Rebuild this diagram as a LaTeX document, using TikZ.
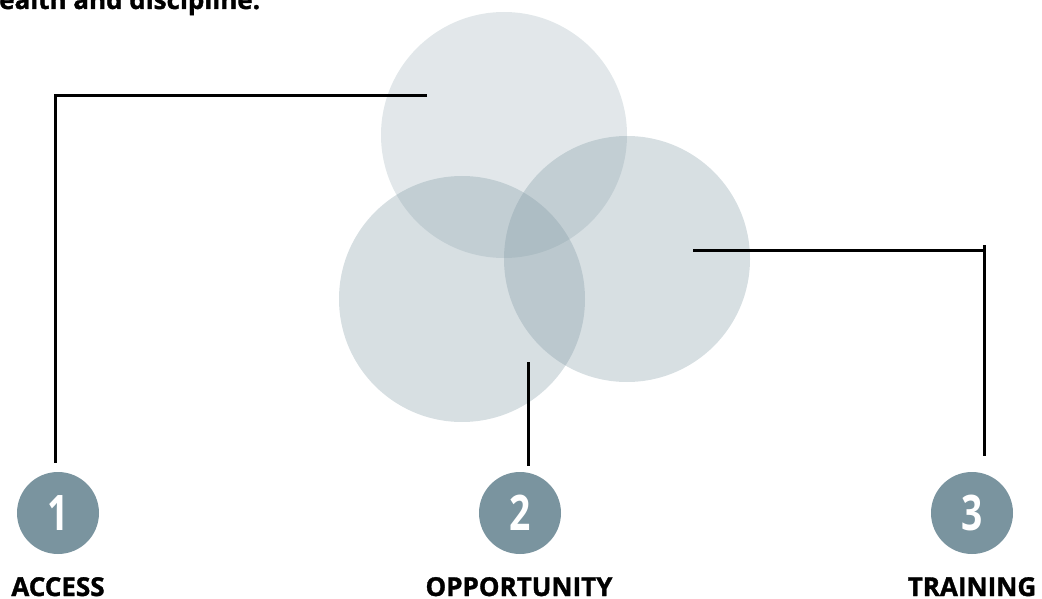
\documentclass[tikz,border=0pt]{standalone}
\usepackage{fontspec}
\setmainfont{Open Sans}[BoldFeatures={FakeBold=1.3}]
\newfontfamily\numfont[FakeStretch=0.76]{Open Sans}
\usetikzlibrary{positioning}
\definecolor{steel}{HTML}{7A949F}

\begin{document}
\begin{tikzpicture}[x=1pt,y=-1pt,
	venn/.style={circle,minimum size=246pt,inner sep=0pt,fill=steel},
	badge/.style={circle,minimum size=82pt,inner sep=0pt,fill=steel,text=white,
		font=\numfont\bfseries\fontsize{49}{49}\selectfont},
	heading/.style={anchor=base,inner sep=0pt,font=\bfseries\fontsize{26}{26}\selectfont},
	leader/.style={line width=2.8pt}]
	\useasboundingbox (0,0) rectangle (1042,599);
	\clip (0,0) rectangle (1042,599);
	\node[anchor=base west,inner sep=0pt,font=\bfseries\fontsize{26}{26}\selectfont] (intro) at (-1,9) {ealth and discipline.};
	% three circles
	\node[venn,fill opacity=0.22] (top) at (504,135) {};
	\node[venn,fill opacity=0.3] (left) at (462,299) {};
	\node[venn,fill opacity=0.3] (right) at (627,259) {};
	% numbered steps
	\node[badge] (one) at (58,513) {1};
	\node[badge] (two) at (520,513) {2};
	\node[badge] (three) at (972,513) {3};
	\node[heading] (access) at (58,596) {ACCESS};
	\node[heading] (opportunity) at (519,596) {OPPORTUNITY};
	\node[heading] (training) at (972,596) {TRAINING};
	% leaders
	\coordinate (p1) at (427,95.3);
	\coordinate (q1) at (55.3,463);
	\coordinate (p2) at (528.5,362);
	\coordinate (q2) at (528.5,466);
	\coordinate (p3) at (693,250.6);
	\coordinate (r3) at (984.2,245);
	\coordinate (q3) at (984.2,456);
	\draw[leader] (p1) -| (q1);
	\draw[leader] (p2) -- (q2);
	\draw[leader] (p3) -- (p3 -| r3);
	\draw[leader] (r3) -- (q3);
\end{tikzpicture}
\end{document}
